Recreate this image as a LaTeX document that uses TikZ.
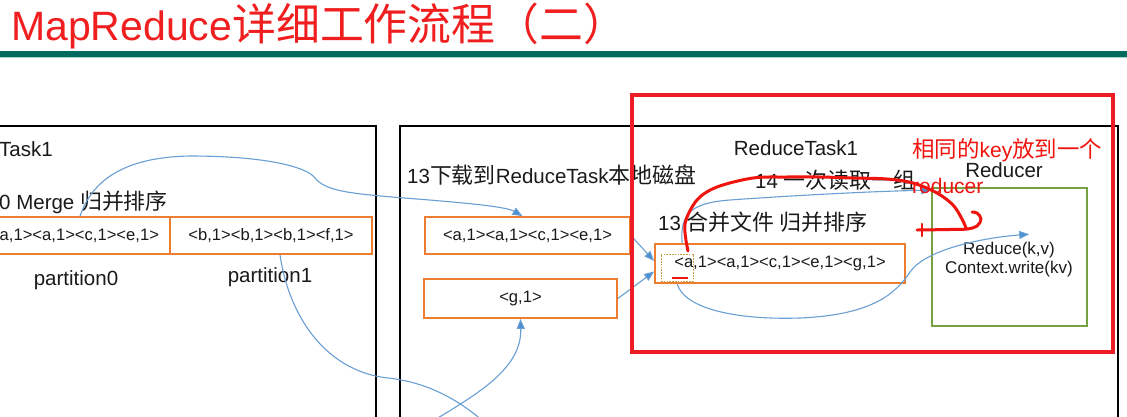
\documentclass[tikz,border=0pt]{standalone}
\usepackage{fontspec}
\setmainfont{Liberation Sans}
\newfontfamily\cjk[Scale=1.07]{Noto Sans CJK SC}
\usetikzlibrary{arrows.meta,calc}

\definecolor{titlered}{HTML}{F01E1E}
\definecolor{barteal}{HTML}{006B5E}
\definecolor{barlight}{HTML}{A8D2C8}
\definecolor{boxorange}{HTML}{ED7D31}
\definecolor{flowblue}{HTML}{6A9FD3}
\definecolor{arrowblue}{HTML}{4A8ED2}
\definecolor{markred}{HTML}{EE1C25}
\definecolor{penred}{HTML}{F0140F}
\definecolor{reducegreen}{HTML}{77A043}
\definecolor{dotgold}{HTML}{C4A040}
\definecolor{inktext}{HTML}{1A1A1A}

\tikzset{
  label/.style={anchor=base west, inner sep=0, text=inktext, font=\fontsize{20.5}{24}\selectfont},
  clabel/.style={anchor=base, inner sep=0, text=inktext, font=\fontsize{20.5}{24}\selectfont},
  kvbox/.style={draw=boxorange, line width=1.8pt, inner sep=0, text=inktext,
                font=\fontsize{16.6}{19}\selectfont},
  taskframe/.style={draw=black, line width=1.8pt},
  flow/.style={draw=flowblue, line width=1.1pt},
  flowarrow/.style={flow, -{Triangle[length=10pt,width=8pt,fill=arrowblue]}},
  redpen/.style={draw=penred, line width=3pt, line cap=round, line join=round},
  redtext/.style={anchor=base west, inner sep=0, text=penred, font=\fontsize{21}{25}\selectfont},
}

\begin{document}
\begin{tikzpicture}[x=1pt,y=-1pt]
\useasboundingbox (0,0) rectangle (1127,416);
\clip (0,0) rectangle (1127,416);
\fill[white] (0,0) rectangle (1127,416);

% heading and rule
\node[anchor=base west, inner sep=0, text=titlered, font=\fontsize{41}{48}\selectfont]
  (title) at (11,40) {MapReduce{\cjk 详细工作流程（二）}};
\fill[barteal] (0,50.5) rectangle (1127,56.5);
\draw[barlight, line width=1pt] (0,57.5) -- (1127,57.5);

% task frames
\draw[taskframe] (-10,126) rectangle (376,440);
\draw[taskframe] (400,126) rectangle (1118,440);

% map side
\node[label] (maplabel) at (-1,156) {Task1};
\node[label] (mergelabel) at (-1,209) {0 Merge {\cjk 归并排序}};
\node[kvbox, minimum width=191, minimum height=37] (p0) at (74.5,235.5) {<a,1><a,1><c,1><e,1>};
\node[kvbox, minimum width=202, minimum height=37] (p1) at (271,235.5) {<b,1><b,1><b,1><f,1>};
\node[clabel] (p0label) at (76,285) {partition0};
\node[clabel] (p1label) at (270,282) {partition1};

% reduce side: downloaded files
\node[label] (downlabel) at (407,183) {13{\cjk 下载到}ReduceTask{\cjk 本地磁盘}};
\node[kvbox, minimum width=205, minimum height=37] (m1) at (527.5,235.5) {<a,1><a,1><c,1><e,1>};
\node[kvbox, minimum width=193, minimum height=39] (g) at (520.5,298.5) {<g,1>};

% reduce side: merged file and reducer
\node[clabel] (rtlabel) at (796,155) {ReduceTask1};
\node[label] (readlabel) at (755,188) {14 {\cjk 一次读取一组}};
\node[label] (sortlabel) at (658,230) {13 {\cjk 合并文件 归并排序}};
\node[kvbox, minimum width=250, minimum height=39] (merged) at (780,263.5) {<a,1><a,1><c,1><e,1><g,1>};
\node[draw=dotgold, line width=0.8pt, dash pattern=on 1.6pt off 1.2pt, inner sep=0,
      minimum width=32, minimum height=27] (firstkey) at (677,267.5) {};
\node[draw=reducegreen, line width=1.6pt, inner sep=0, minimum width=155, minimum height=138]
  (reducer) at (1009.5,257) {};
\node[clabel] (reducerlabel) at (1004,177) {Reducer};
\node[anchor=base, inner sep=0, text=inktext, font=\fontsize{17}{20}\selectfont] (call1) at (1009,254) {Reduce(k,v)};
\node[anchor=base, inner sep=0, text=inktext, font=\fontsize{17}{20}\selectfont] (call2) at (1009,273) {Context.write(kv)};
\coordinate (intoreduce) at ([xshift=98pt,yshift=-47pt]reducer.north west);
\coordinate (lowexit) at (495,432);
\coordinate (lowentry) at (418,430);

% data flow
\draw[flowarrow] ([xshift=102pt]p0.north west)
  .. controls (92,180) and (125,157) .. (190,156)
  .. controls (262,156) and (306,166) .. (315,178)
  .. controls (325,190) and (345,193) .. (392,197)
  .. controls (455,202) and (505,206) .. ([xshift=-5pt]m1.north);
\draw[flow] ([xshift=9pt]p1.south)
  .. controls (290,322) and (330,372) .. (388,378)
  .. controls (425,382) and (460,398) .. (lowexit);
\draw[flowarrow] (lowentry) .. controls (470,398) and (522,372) .. (g.south);
\draw[flowarrow] (m1.east) -- ([yshift=2.5pt]merged.west);
\draw[flowarrow] (g.east) -- ([yshift=-8pt]merged.west);
\draw[flowarrow] ([xshift=28pt]merged.north west)
  .. controls (680,214) and (690,203) .. (730,200)
  .. controls (800,195) and (880,191) .. ([yshift=-3pt]reducer.north west);
\draw[flowarrow] ([xshift=23pt]merged.south west)
  .. controls (685,310) and (740,320) .. (800,318)
  .. controls (870,315) and (895,295) .. (910,272)
  .. controls (925,250) and (980,238) .. (intoreduce);

% highlight frame and pen annotations
\draw[markred, line width=3.5pt] (632,95) rectangle (1113,352);
\draw[penred, line width=2.5pt] (672,278) -- (688,278);
\draw[redpen] plot[smooth, tension=0.55] coordinates {(688,251) (685,224) (697,200) (717,187)
  (753,178) (787,177) (820,177) (853,178) (887,179) (913,183) (937,193) (953,205) (962,219) (966,228)};
\draw[redpen] plot[smooth, tension=0.6] coordinates {(917,230) (950,229.5) (967,229)
  (977,226) (981,219) (977,213) (972,212)};
\draw[redpen, line width=2.5pt] (922,224) -- (922,236);
\node[redtext] (note1) at (912,157) {{\cjk 相同的}key{\cjk 放到一个}};
\node[redtext] (note2) at (912,193) {reducer};
\end{tikzpicture}
\end{document}
